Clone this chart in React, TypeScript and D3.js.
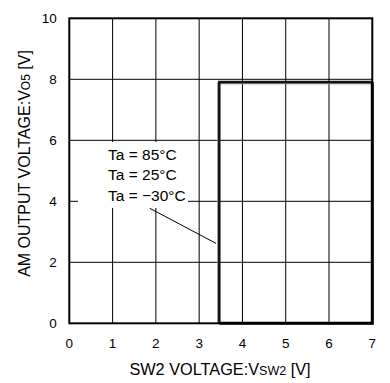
import React from "react";
import * as d3 from "d3";

// Output voltage vs. SW2 voltage, one trace per ambient temperature
const temperatures = ["Ta = 85°C", "Ta = 25°C", "Ta = −30°C"];
const thresholdV = [3.46, 3.47, 3.44];
const highLevelV = [7.92, 7.9, 7.87];
const traceColors = ["#222", "#111", "#888"];

const xTicks = [0, 1, 2, 3, 4, 5, 6, 7];
const yTicks = [0, 2, 4, 6, 8, 10];

// Leader line from the temperature note to the rising edge
const leaderFrom = [1.86, 3.77];
const leaderTo = [3.39, 2.62];

const W = 390;
const H = 383;
const font = "'Liberation Sans', Arial, sans-serif";

export default function App() {
  const x = d3.scaleLinear().domain([0, 7]).range([69.3, 372.3]);
  const y = d3.scaleLinear().domain([0, 10]).range([323.3, 18.3]);
  const line = d3
    .line<[number, number]>()
    .x((d) => x(d[0]))
    .y((d) => y(d[1]));

  const traces = temperatures.map((_, i) => {
    const pts: [number, number][] = [
      [thresholdV[i], 0],
      [thresholdV[i], highLevelV[i]],
      [7, highLevelV[i]],
    ];
    return line(pts) as string;
  });
  // paint order: lighter trace underneath
  const order = [2, 0, 1];

  return (
    <svg
      width={W}
      height={H}
      style={{ position: "absolute", left: 0, top: 0, background: "#fff" }}
      fontFamily={font}
    >
      <rect x={0} y={0} width={W} height={H} fill="#fff" />
      {/* grid */}
      {xTicks.slice(1, -1).map((t) => (
        <line key={"gx" + t} x1={x(t)} x2={x(t)} y1={y(0)} y2={y(10)} stroke="#000" strokeWidth={1} />
      ))}
      {yTicks.slice(1, -1).map((t) => (
        <line key={"gy" + t} x1={x(0)} x2={x(7)} y1={y(t)} y2={y(t)} stroke="#000" strokeWidth={1} />
      ))}

      {/* note box */}
      <rect x={78} y={142} width={110} height={66} fill="#fff" />
      {temperatures.map((t, i) => (
        <text key={t} x={108} y={160 + i * 20.3} fontSize={15.5} fill="#000">
          {t}
        </text>
      ))}
      <line
        x1={x(leaderFrom[0])}
        y1={y(leaderFrom[1])}
        x2={x(leaderTo[0])}
        y2={y(leaderTo[1])}
        stroke="#000"
        strokeWidth={1}
      />

      {/* traces */}
      {order.map((i) => (
        <path key={"tr" + i} d={traces[i]} fill="none" stroke={traceColors[i]} strokeWidth={2} />
      ))}

      {/* frame */}
      <rect x={x(0)} y={y(10)} width={x(7) - x(0)} height={y(0) - y(10)} fill="none" stroke="#000" strokeWidth={2} />
      {/* output-high region edge along the right and bottom */}
      <path
        d={line([
          [thresholdV[1], 0],
          [7, 0],
          [7, highLevelV[1]],
        ]) as string}
        fill="none"
        stroke="#000"
        strokeWidth={3}
      />

      {/* tick labels */}
      {xTicks.map((t) => (
        <text key={"xt" + t} x={x(t)} y={347.7} fontSize={13.5} textAnchor="middle" fill="#000">
          {t}
        </text>
      ))}
      {yTicks.map((t) => (
        <text key={"yt" + t} x={56.7} y={y(t) + 4.8} fontSize={13.5} textAnchor="end" fill="#000">
          {t}
        </text>
      ))}

      {/* axis titles */}
      <text x={220} y={375} fontSize={16.3} textAnchor="middle" fill="#000">
        SW2 VOLTAGE:V<tspan fontSize={12.5}>SW2</tspan> [V]
      </text>
      <text
        transform={`translate(30,163.5) rotate(-90)`}
        fontSize={16}
        textAnchor="middle"
        fill="#000"
      >
        AM OUTPUT VOLTAGE:V<tspan fontSize={12}>O5</tspan> [V]
      </text>
    </svg>
  );
}
